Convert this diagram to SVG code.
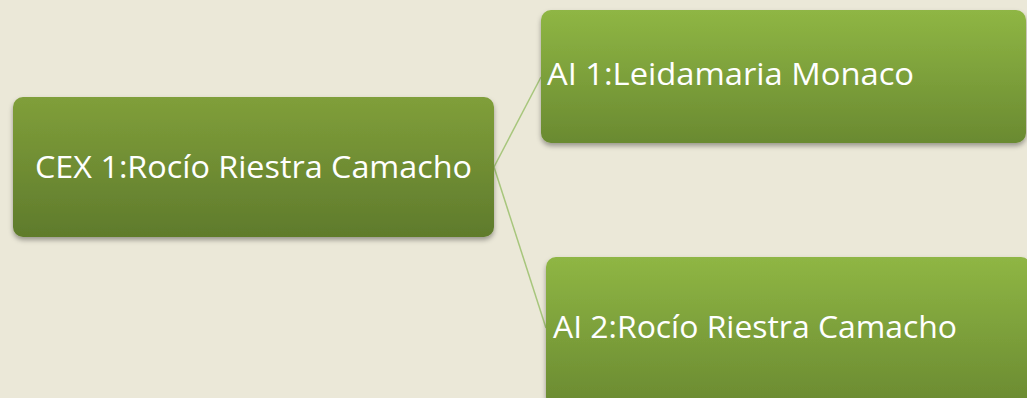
<svg xmlns="http://www.w3.org/2000/svg" width="1027" height="398" viewBox="0 0 1027 398">
<style>
.lbl{font-family:"Open Sans","Liberation Sans",sans-serif;font-size:31px;fill:#ffffff}
.box{filter:url(#sh)}
.conn{stroke:#a7c67c;stroke-width:1.5;fill:none}
</style>
<defs>
<linearGradient id="g1" x1="0" y1="0" x2="0" y2="1">
<stop offset="0" stop-color="#809f3a"/>
<stop offset="1" stop-color="#5f7b2c"/>
</linearGradient>
<linearGradient id="g2" x1="0" y1="0" x2="0" y2="1">
<stop offset="0" stop-color="#8fb644"/>
<stop offset="1" stop-color="#6a8a31"/>
</linearGradient>
<filter id="sh" x="-5%" y="-10%" width="110%" height="125%">
<feDropShadow dx="0" dy="3" stdDeviation="2.5" flood-color="#000" flood-opacity="0.35"/>
</filter>
</defs>
<rect width="1027" height="398" fill="#ebe8d8"/>
<g id="connectors">
<line class="conn" x1="494" y1="167" x2="541" y2="77"/>
<line class="conn" x1="494" y1="167" x2="546" y2="328"/>
</g>
<g id="node-cex1">
<rect class="box" x="13" y="97" width="481" height="140" rx="10" fill="url(#g1)"/>
<text class="lbl" x="35" y="178" textLength="437" lengthAdjust="spacingAndGlyphs">CEX 1:Rocío Riestra Camacho</text>
</g>
<g id="node-ai1">
<rect class="box" x="541" y="10" width="485" height="133" rx="10" fill="url(#g2)"/>
<text class="lbl" x="547" y="85" textLength="367" lengthAdjust="spacingAndGlyphs">AI 1:Leidamaria Monaco</text>
</g>
<g id="node-ai2">
<rect class="box" x="546" y="257" width="485" height="150" rx="10" fill="url(#g2)"/>
<text class="lbl" x="553" y="338" textLength="404" lengthAdjust="spacingAndGlyphs">AI 2:Rocío Riestra Camacho</text>
</g>
</svg>
